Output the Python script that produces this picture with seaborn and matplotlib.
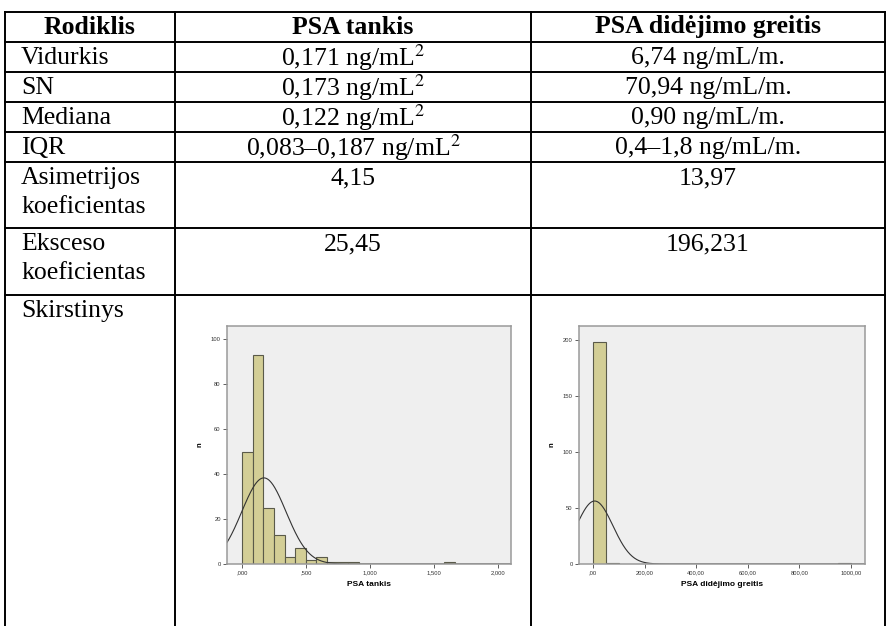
import numpy as np
import pandas as pd
import seaborn as sns
import matplotlib.pyplot as plt
from matplotlib.lines import Line2D

# ---- table contents ----
headers = ['Rodiklis', 'PSA tankis', 'PSA didėjimo greitis']
row_labels = [['Vidurkis'], ['SN'], ['Mediana'], ['IQR'],
              ['Asimetrijos', 'koeficientas'], ['Eksceso', 'koeficientas'],
              ['Skirstinys']]
tankis_vals = ['0,171 ng/mL$^2$', '0,173 ng/mL$^2$', '0,122 ng/mL$^2$',
               '0,083–0,187 ng/mL$^2$', '4,15', '25,45']
greitis_vals = ['6,74 ng/mL/m.', '70,94 ng/mL/m.', '0,90 ng/mL/m.',
                '0,4–1,8 ng/mL/m.', '13,97', '196,231']

# ---- histogram 1: PSA tankis ----
h1_bw = 0.083
h1_counts = [50, 93, 25, 13, 3, 7, 2, 3, 1, 1, 1, 0, 0, 0, 0, 0, 0, 0, 0, 1]
h1_mean, h1_sd, h1_n = 0.171, 0.173, 200
h1_xticks = [0, 0.5, 1.0, 1.5, 2.0]
h1_xlabels = [',000', ',500', '1,000', '1,500', '2,000']
h1_yticks = [0, 20, 40, 60, 80, 100]

# ---- histogram 2: PSA didejimo greitis ----
h2_bw = 50
h2_counts = [198, 1, 0, 0, 0, 0, 0, 0, 0, 0, 0, 0, 0, 0, 0, 0, 0, 0, 0, 1]
h2_mean, h2_sd, h2_n = 6.74, 70.94, 200
h2_xticks = [0, 200, 400, 600, 800, 1000]
h2_xlabels = [',00', '200,00', '400,00', '600,00', '800,00', '1000,00']
h2_yticks = [0, 50, 100, 150, 200]

plt.rcParams['mathtext.fontset'] = 'stix'
W, H = 891, 626
fig = plt.figure(figsize=(W / 100, H / 100), dpi=100)
fig.patch.set_facecolor('white')


def fx(x):
    return x / W


def fy(y):
    return 1 - y / H


def hline(y, x0=5, x1=885):
    fig.add_artist(Line2D([fx(x0), fx(x1)], [fy(y), fy(y)], color='black', lw=1.4))


def vline(x, y0=12, y1=626):
    fig.add_artist(Line2D([fx(x), fx(x)], [fy(y0), fy(y1)], color='black', lw=1.4))


serif = 'Liberation Serif'
fs = 18.5
col_lines = [5, 175, 531, 885]
col_x = [21, (175 + 531) / 2, (531 + 885) / 2]
row_lines = [12, 42, 72, 102, 132, 162, 228, 295]
for y in row_lines:
    hline(y)
for x in col_lines:
    vline(x)

# header
fig.text(fx(90), fy(27), headers[0], ha='center', va='center', family=serif,
         fontsize=fs, fontweight='bold')
fig.text(fx(col_x[1]), fy(27), headers[1], ha='center', va='center', family=serif,
         fontsize=fs, fontweight='bold')
fig.text(fx(col_x[2]), fy(27), headers[2], ha='center', va='center', family=serif,
         fontsize=fs, fontweight='bold')

row_tops = [42, 72, 102, 132, 162, 228, 295]
for i, lab in enumerate(row_labels):
    for j, line in enumerate(lab):
        fig.text(fx(col_x[0]), fy(row_tops[i] + 16 + 29 * j), line, ha='left',
                 va='center', family=serif, fontsize=fs)
    if i < len(tankis_vals):
        fig.text(fx(col_x[1]), fy(row_tops[i] + 16), tankis_vals[i], ha='center',
                 va='center', family=serif, fontsize=fs)
        fig.text(fx(col_x[2]), fy(row_tops[i] + 16), greitis_vals[i], ha='center',
                 va='center', family=serif, fontsize=fs)


def spss_hist(rect, counts, bw, mean, sd, n, xlim, ylim, xticks, xlabels, yticks, xlabel):
    ax = fig.add_axes(rect)
    ax.set_facecolor('#efefef')
    edges = [i * bw for i in range(len(counts) + 1)]
    centers = [e + bw / 2 for e in edges[:-1]]
    df = pd.DataFrame({'x': centers, 'n': counts})
    sns.histplot(data=df, x='x', weights='n', bins=edges, ax=ax,
                 color='#d3ce96', edgecolor='#5a5a4a', linewidth=0.8, alpha=1)
    # normal curve from the mean and SD listed in the table
    xs = np.linspace(xlim[0], xlim[1], 500)
    ys = n * bw * np.exp(-0.5 * ((xs - mean) / sd) ** 2) / (sd * np.sqrt(2 * np.pi))
    sns.lineplot(x=xs, y=ys, ax=ax, color='#333333', lw=0.8)
    ax.set_xlim(xlim)
    ax.set_ylim(ylim)
    ax.set_xticks(xticks)
    ax.set_xticklabels(xlabels)
    ax.set_yticks(yticks)
    ax.set_yticklabels([str(v) for v in yticks])
    ax.tick_params(axis='both', labelsize=4.2, length=3, width=0.6, color='#444444',
                   pad=1.5, labelcolor='#333333')
    for lbl in ax.get_xticklabels() + ax.get_yticklabels():
        lbl.set_family('Liberation Sans')
    for sp in ax.spines.values():
        sp.set_color('#9a9a9a')
        sp.set_linewidth(1.1)
    ax.set_xlabel(xlabel, fontsize=6, fontweight='bold', family='Liberation Sans',
                  labelpad=4)
    ax.set_ylabel('n', fontsize=5.5, fontweight='bold', family='Liberation Sans',
                  labelpad=5)
    return ax


spss_hist([fx(227), fy(564), (511 - 227) / W, (564 - 326) / H], h1_counts, h1_bw,
          h1_mean, h1_sd, h1_n, (-0.117, 2.10), (0, 105.8), h1_xticks, h1_xlabels,
          h1_yticks, 'PSA tankis')
spss_hist([fx(579), fy(564), (865 - 579) / W, (564 - 326) / H], h2_counts, h2_bw,
          h2_mean, h2_sd, h2_n, (-54, 1055), (0, 212.5), h2_xticks, h2_xlabels,
          h2_yticks, 'PSA didėjimo greitis')

fig.savefig('out.png', dpi=100)
